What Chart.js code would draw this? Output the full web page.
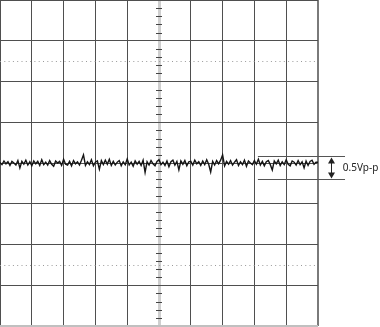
<!DOCTYPE html>
<html>
<head>
<meta charset="utf-8">
<script src="https://cdn.jsdelivr.net/npm/chart.js@4"></script>
<style>
  html, body { margin: 0; padding: 0; background: #fff; }
  #wrap { width: 380px; height: 327px; }
</style>
</head>
<body>
<div id="wrap"><canvas id="scope"></canvas></div>
<script>
// screen units: 1 division = 100 units, 10 x 8 divisions
const xDivs = 10;
const yDivs = 8;
const samplesPerDiv = 16;

// trace, one sample per 1/16 division (in 1/100 division)
const trace = [
    1, -4, 5, -2, 3, -6, 4, 0, -5, 6,
    -12, 4, -3, 7, -5, 3, -7, 5, -2, 4,
    -6, 8, -4, 2, -5, 6, -3, -8, 5, 0,
    4, -6, 9, -3, -5, 4, -7, 6, -2, 3,
    -5, 7, 20, -6, 3, -4, 8, -7, 2, 5,
    -15, 6, -4, 7, -3, 9, -6, 4, -5, 2,
    6, -7, 3, -4, 10, -5, 2, -8, 5, -3,
    4, -6, 7, -23, 3, -5, 6, -2, -7, 4,
    8, -4, 2, -6, 5, -9, 3, 7, -5, 4,
    -17, 5, -3, 6, -7, 3, 4, -5, 7, -2,
    3, -6, 5, -4, 8, -3, -22, 4, -5, 6,
    -2, 7, 20, -7, 4, -3, 6, -5, 2, 8,
    -6, 3, -4, 7, -8, 5, 0, -4, 6, -3,
    9, -5, 4, -7, 3, 6, -4, -17, 5, -2,
    7, -6, 3, -4, 8, -3, -7, 5, 2, -5,
    6, -4, 3, -12, 5, -6, 4, 7, -3, 2,
    2,
];

// peak-to-peak marker
const ppTop = 16;
const ppBottom = -39;
const ppLabel = '0.5Vp-p';

const xMax = xDivs * 100;
const yMax = yDivs * 50;
const points = trace.map((v, i) => ({ x: i * 100 / samplesPerDiv, y: v }));

const scopeDecor = {
    id: 'scopeDecor',
    beforeDatasetsDraw(chart) {
        const { ctx, chartArea: a, scales: { x, y } } = chart;
        ctx.save();

        // dotted lines at +-2.5 div
        ctx.strokeStyle = '#9a9a9a';
        ctx.lineWidth = 1;
        ctx.setLineDash([1, 3.3]);
        [250, -250].forEach(v => {
            const py = Math.round(y.getPixelForValue(v)) + 0.5;
            ctx.beginPath();
            ctx.moveTo(a.left, py);
            ctx.lineTo(a.right, py);
            ctx.stroke();
        });
        ctx.setLineDash([]);

        // minor ticks on the centre vertical axis
        const cx = Math.round(x.getPixelForValue(xMax / 2));
        ctx.strokeStyle = '#444';
        for (let v = -yMax; v <= yMax; v += 20) {
            if (v % 100 === 0) continue;
            const py = Math.round(y.getPixelForValue(v)) + 0.5;
            ctx.beginPath();
            ctx.moveTo(cx - 3, py);
            ctx.lineTo(cx + 3, py);
            ctx.stroke();
        }
        ctx.restore();
    },
    afterDraw(chart) {
        const { ctx, scales: { x, y } } = chart;
        ctx.save();
        const yt = Math.round(y.getPixelForValue(ppTop)) + 0.5;
        const yb = Math.round(y.getPixelForValue(ppBottom)) + 0.5;
        const x0 = x.getPixelForValue(811);
        const x1 = x.getPixelForValue(1085);
        ctx.strokeStyle = '#555';
        ctx.lineWidth = 1;
        ctx.beginPath();
        ctx.moveTo(x0, yt); ctx.lineTo(x1, yt);
        ctx.moveTo(x0, yb); ctx.lineTo(x1, yb);
        ctx.stroke();

        // double arrow
        const ax = Math.round(x.getPixelForValue(1041)) + 0.5;
        ctx.strokeStyle = '#222';
        ctx.fillStyle = '#222';
        ctx.beginPath();
        ctx.moveTo(ax, yt + 6); ctx.lineTo(ax, yb - 6);
        ctx.stroke();
        ctx.beginPath();
        ctx.moveTo(ax, yt + 1); ctx.lineTo(ax - 3.5, yt + 7); ctx.lineTo(ax + 3.5, yt + 7);
        ctx.closePath();
        ctx.fill();
        ctx.beginPath();
        ctx.moveTo(ax, yb - 1); ctx.lineTo(ax - 3.5, yb - 7); ctx.lineTo(ax + 3.5, yb - 7);
        ctx.closePath();
        ctx.fill();

        ctx.font = '10px "Noto Sans"';
        ctx.textBaseline = 'middle';
        ctx.fillText(ppLabel, x.getPixelForValue(1078), (yt + yb) / 2);
        ctx.restore();
    },
};

new Chart(document.getElementById('scope'), {
    type: 'line',
    data: {
        datasets: [{
            data: points,
            borderColor: '#151515',
            borderWidth: 1.4,
            pointRadius: 0,
            tension: 0,
        }],
    },
    options: {
        responsive: true,
        maintainAspectRatio: false,
        animation: false,
        layout: { padding: { left: 0, top: 0, right: 62, bottom: 1 } },
        plugins: { legend: { display: false }, tooltip: { enabled: false } },
        scales: {
            x: {
                type: 'linear', min: 0, max: xMax,
                ticks: { display: false, stepSize: 100 },
                border: { display: false },
                grid: {
                    drawTicks: false,
                    color: (c) => c.tick.value === xMax / 2 ? '#cfcfcf' : (c.tick.value === xMax ? '#7a7a7a' : '#4f4f4f'),
                    lineWidth: (c) => c.tick.value === xMax / 2 ? 3 : (c.tick.value === xMax ? 2 : 1),
                },
            },
            y: {
                type: 'linear', min: -yMax, max: yMax,
                ticks: { display: false, stepSize: 100 },
                border: { display: false },
                grid: {
                    drawTicks: false,
                    color: (c) => c.tick.value === -yMax ? '#c0c0c0' : '#4f4f4f',
                    lineWidth: (c) => c.tick.value === -yMax ? 2 : 1,
                },
            },
        },
    },
    plugins: [scopeDecor],
});
</script>
</body>
</html>
